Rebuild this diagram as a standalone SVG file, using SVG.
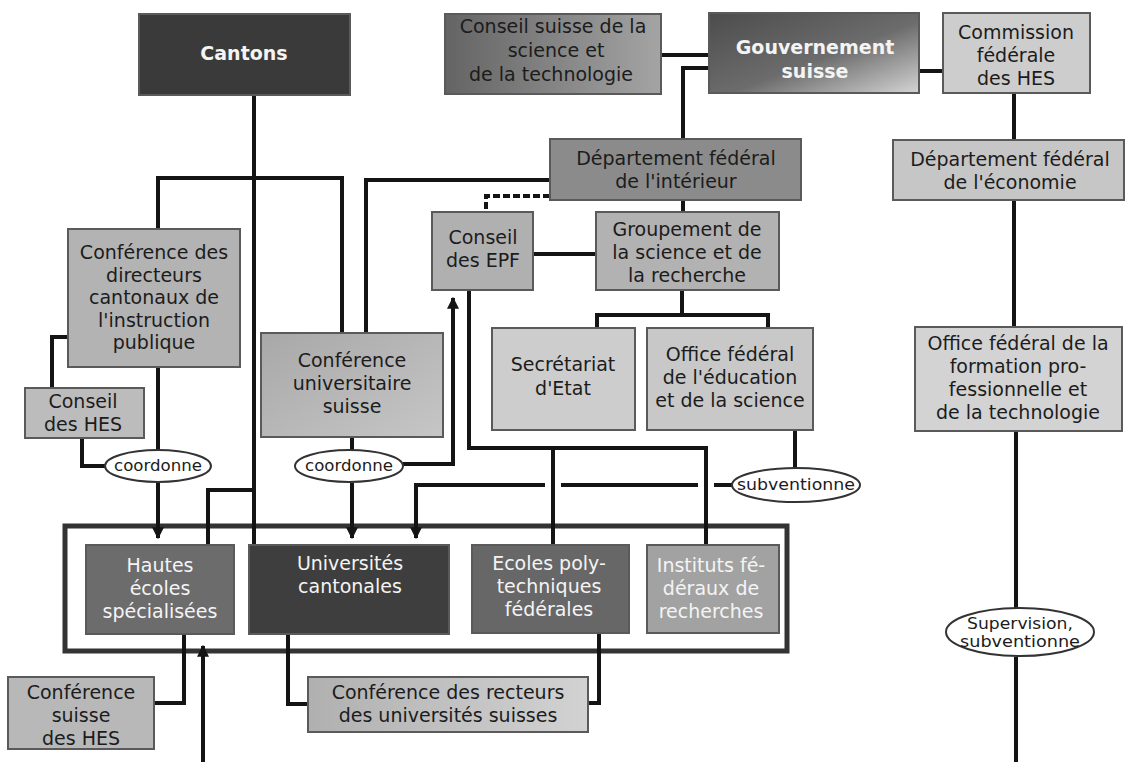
<svg xmlns="http://www.w3.org/2000/svg" width="1129" height="762" viewBox="0 0 1129 762">
<defs>
<style>
.bx{stroke:#5a5a5a;stroke-width:2}
.t{font-family:"DejaVu Sans","Liberation Sans",Arial,sans-serif;font-size:19px;text-anchor:middle;fill:#1c1c1c}
.w{fill:#f4f4f4}
.b{font-weight:bold}
.s{font-size:15px}
.c{stroke:#141414;stroke-width:4;fill:none}
.d{stroke:#141414;stroke-width:4;fill:none;stroke-dasharray:7 3}
.el{fill:#fff;stroke:#333;stroke-width:2}
</style>
<linearGradient id="gGouv" x1="0" y1="0" x2="1" y2="1">
<stop offset="0" stop-color="#4c4c4c"/><stop offset="0.55" stop-color="#6c6c6c"/><stop offset="1" stop-color="#d4d4d4"/>
</linearGradient>
<linearGradient id="gCS" x1="0" y1="0" x2="1" y2="0">
<stop offset="0" stop-color="#646464"/><stop offset="1" stop-color="#a4a4a4"/>
</linearGradient>
<linearGradient id="gLight" x1="0" y1="0" x2="1" y2="1">
<stop offset="0" stop-color="#a8a8a8"/><stop offset="1" stop-color="#c6c6c6"/>
</linearGradient>
<linearGradient id="gRec" x1="0" y1="0" x2="1" y2="0">
<stop offset="0" stop-color="#b0b0b0"/><stop offset="1" stop-color="#d2d2d2"/>
</linearGradient>
<marker id="ah" viewBox="0 0 10 10" refX="9" refY="5" markerWidth="3" markerHeight="3" orient="auto">
<path d="M0,0 L10,5 L0,10 z" fill="#141414"/>
</marker>
</defs>
<rect width="1129" height="762" fill="#fff"/>

<g id="container">
<rect x="65" y="526" width="722" height="125" fill="#fff" stroke="#333" stroke-width="5"/>
</g>

<g id="connectors">
<path class="c" d="M254,95 V545"/>
<path class="c" d="M158,229 V178 H342 V333"/>
<path class="c" d="M550,180 H366 V333"/>
<path class="d" d="M550,196 H486 V212"/>
<path class="c" d="M661,55 H709"/>
<path class="c" d="M709,68 H683 V139"/>
<path class="c" d="M683,200 V212"/>
<path class="c" d="M919,71 H943"/>
<path class="c" d="M1014,93 V140"/>
<path class="c" d="M1014,200 V327"/>
<path class="c" d="M1016,431 V608"/>
<path class="c" d="M1016,657 V762"/>
<path class="c" d="M533,254 H596"/>
<path class="c" d="M682,290 V315"/>
<path class="c" d="M597,328 V315 H768 V328"/>
<path class="c" d="M68,337 H52 V388"/>
<path class="c" d="M82,438 V466 H105"/>
<path class="c" d="M158,367 V450"/>
<path class="c" d="M158,483 V538" marker-end="url(#ah)"/>
<path class="c" d="M352,437 V450"/>
<path class="c" d="M352,483 V538" marker-end="url(#ah)"/>
<path class="c" d="M403,464 H453 V298" marker-end="url(#ah)"/>
<path class="c" d="M469,290 V448 H706 V545"/>
<path class="c" d="M553,448 V545"/>
<path class="c" d="M732,485 H714"/>
<path class="c" d="M698,485 H561"/>
<path class="c" d="M545,485 H416 V538" marker-end="url(#ah)"/>
<path class="c" d="M254,490 H208 V545"/>
<path class="c" d="M795,430 V468"/>
<path class="c" d="M184,634 V703 H154"/>
<path class="c" d="M203,762 V646" marker-end="url(#ah)"/>
<path class="c" d="M288,634 V704 H308"/>
<path class="c" d="M599,633 V703 H588"/>
</g>

<g id="cantons">
<rect class="bx" x="139" y="14" width="211" height="81" fill="#3a3a3a" stroke="#2a2a2a"/>
<text class="t w b" x="244" y="60" font-size="20">Cantons</text>
</g>
<g id="conseil-suisse">
<rect class="bx" x="445" y="14" width="216" height="80" fill="url(#gCS)"/>
<text class="t" x="553" y="33">Conseil suisse de la</text>
<text class="t" x="556" y="57">science et</text>
<text class="t" x="551" y="81">de la technologie</text>
</g>
<g id="gouvernement">
<rect class="bx" x="709" y="13" width="210" height="80" fill="url(#gGouv)"/>
<text class="t w b" x="815" y="54">Gouvernement</text>
<text class="t w b" x="815" y="78">suisse</text>
</g>
<g id="commission">
<rect class="bx" x="943" y="13" width="147" height="80" fill="#cdcdcd"/>
<text class="t" x="1016" y="39">Commission</text>
<text class="t" x="1016" y="62">fédérale</text>
<text class="t" x="1016" y="85">des HES</text>
</g>
<g id="dept-interieur">
<rect class="bx" x="550" y="139" width="251" height="61" fill="#8b8b8b"/>
<text class="t" x="676" y="165">Département fédéral</text>
<text class="t" x="676" y="188">de l'intérieur</text>
</g>
<g id="dept-economie">
<rect class="bx" x="893" y="140" width="231" height="60" fill="#c6c6c6"/>
<text class="t" x="1010" y="166">Département fédéral</text>
<text class="t" x="1010" y="189">de l'économie</text>
</g>
<g id="conseil-epf">
<rect class="bx" x="432" y="212" width="101" height="78" fill="#b0b0b0"/>
<text class="t" x="483" y="244">Conseil</text>
<text class="t" x="483" y="267">des EPF</text>
</g>
<g id="groupement">
<rect class="bx" x="596" y="212" width="183" height="78" fill="#b2b2b2"/>
<text class="t" x="687" y="236">Groupement de</text>
<text class="t" x="687" y="259">la science et de</text>
<text class="t" x="687" y="282">la recherche</text>
</g>
<g id="conf-directeurs">
<rect class="bx" x="68" y="229" width="172" height="138" fill="#b3b3b3"/>
<text class="t" x="154" y="259">Conférence des</text>
<text class="t" x="154" y="281.5">directeurs</text>
<text class="t" x="154" y="304">cantonaux de</text>
<text class="t" x="154" y="326.5">l'instruction</text>
<text class="t" x="154" y="349">publique</text>
</g>
<g id="conseil-hes">
<rect class="bx" x="25" y="388" width="119" height="50" fill="#bcbcbc"/>
<text class="t" x="83" y="408">Conseil</text>
<text class="t" x="83" y="431">des HES</text>
</g>
<g id="conf-universitaire">
<rect class="bx" x="261" y="333" width="182" height="104" fill="url(#gLight)"/>
<text class="t" x="352" y="367">Conférence</text>
<text class="t" x="352" y="390">universitaire</text>
<text class="t" x="352" y="413">suisse</text>
</g>
<g id="secretariat">
<rect class="bx" x="492" y="328" width="143" height="102" fill="#cdcdcd"/>
<text class="t" x="563" y="371">Secrétariat</text>
<text class="t" x="563" y="395">d'Etat</text>
</g>
<g id="office-education">
<rect class="bx" x="647" y="328" width="166" height="102" fill="#c8c8c8"/>
<text class="t" x="730" y="361">Office fédéral</text>
<text class="t" x="730" y="384">de l'éducation</text>
<text class="t" x="730" y="407">et de la science</text>
</g>
<g id="office-formation">
<rect class="bx" x="915" y="327" width="207" height="104" fill="#d3d3d3"/>
<text class="t" x="1018" y="350">Office fédéral de la</text>
<text class="t" x="1018" y="373">formation pro-</text>
<text class="t" x="1018" y="396">fessionnelle et</text>
<text class="t" x="1018" y="419">de la technologie</text>
</g>
<g id="coord-left">
<ellipse class="el" cx="158" cy="466" rx="53" ry="16"/>
<text class="t s" x="158" y="471" textLength="88" lengthAdjust="spacingAndGlyphs">coordonne</text>
</g>
<g id="coord-right">
<ellipse class="el" cx="349" cy="466" rx="54" ry="16"/>
<text class="t s" x="349" y="471" textLength="88" lengthAdjust="spacingAndGlyphs">coordonne</text>
</g>
<g id="subventionne">
<ellipse class="el" cx="796" cy="485" rx="64" ry="17"/>
<text class="t s" x="796" y="490" textLength="118" lengthAdjust="spacingAndGlyphs">subventionne</text>
</g>
<g id="supervision">
<ellipse class="el" cx="1020" cy="632" rx="74" ry="24"/>
<text class="t s" x="1020" y="629" textLength="106" lengthAdjust="spacingAndGlyphs">Supervision,</text>
<text class="t s" x="1020" y="647" textLength="120" lengthAdjust="spacingAndGlyphs">subventionne</text>
</g>
<g id="hautes-ecoles">
<rect class="bx" x="86" y="545" width="148" height="89" fill="#6c6c6c"/>
<text class="t w" x="160" y="572">Hautes</text>
<text class="t w" x="160" y="595">écoles</text>
<text class="t w" x="160" y="618">spécialisées</text>
</g>
<g id="universites">
<rect class="bx" x="249" y="545" width="200" height="89" fill="#3e3e3e"/>
<text class="t w" x="350" y="570">Universités</text>
<text class="t w" x="350" y="593">cantonales</text>
</g>
<g id="ecoles-poly">
<rect class="bx" x="472" y="545" width="157" height="88" fill="#676767"/>
<text class="t w" x="549" y="570">Ecoles poly-</text>
<text class="t w" x="549" y="593">techniques</text>
<text class="t w" x="549" y="616">fédérales</text>
</g>
<g id="instituts">
<rect class="bx" x="647" y="545" width="132" height="88" fill="#a2a2a2"/>
<text class="t w" x="711" y="572">Instituts fé-</text>
<text class="t w" x="711" y="595">déraux de</text>
<text class="t w" x="711" y="618">recherches</text>
</g>
<g id="conf-suisse-hes">
<rect class="bx" x="8" y="677" width="146" height="72" fill="#b8b8b8"/>
<text class="t" x="81" y="699">Conférence</text>
<text class="t" x="81" y="722">suisse</text>
<text class="t" x="81" y="745">des HES</text>
</g>
<g id="conf-recteurs">
<rect class="bx" x="308" y="677" width="280" height="55" fill="url(#gRec)"/>
<text class="t" x="448" y="699">Conférence des recteurs</text>
<text class="t" x="448" y="722">des universités suisses</text>
</g>
</svg>
